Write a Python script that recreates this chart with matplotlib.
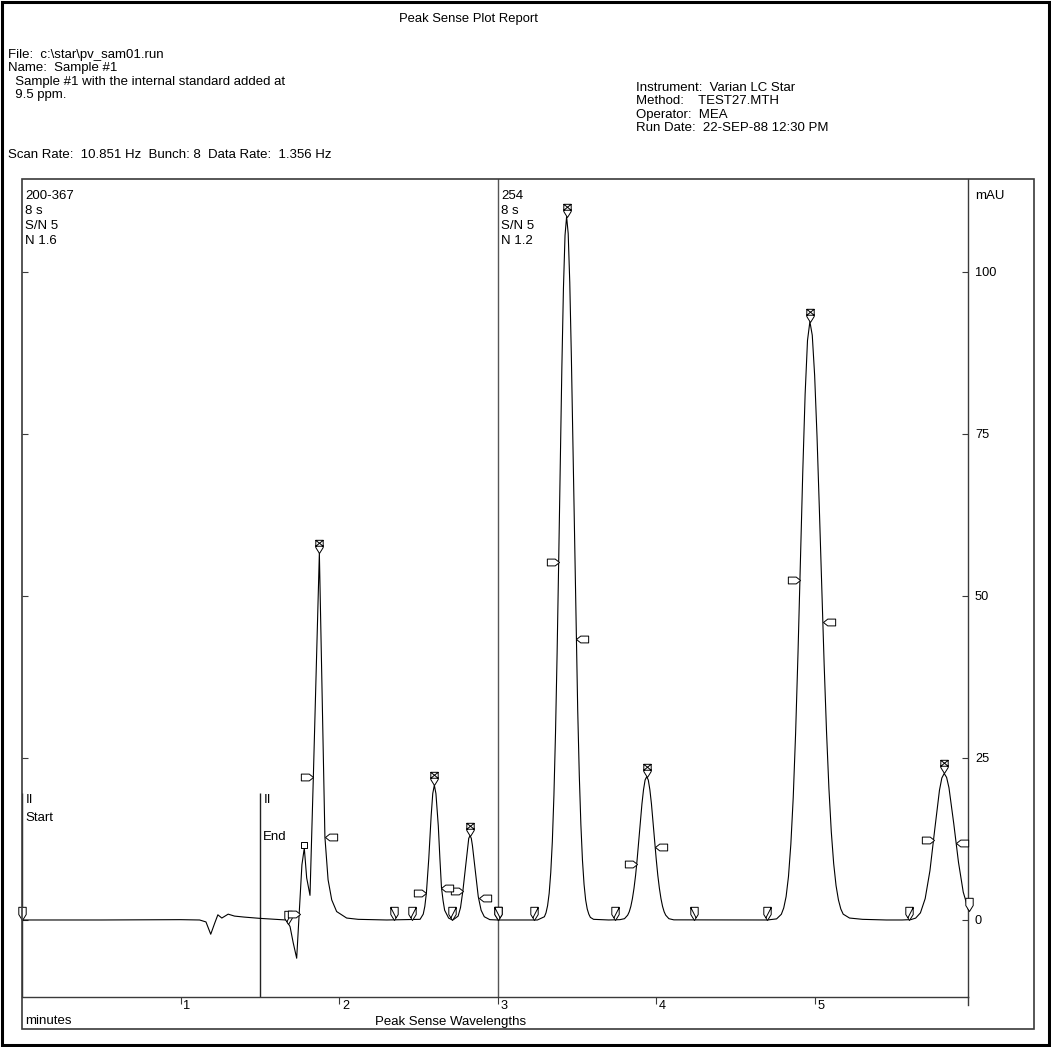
import numpy as np
import matplotlib.pyplot as plt
from matplotlib.path import Path
from matplotlib.patches import Rectangle
from matplotlib.lines import Line2D
from matplotlib.transforms import ScaledTranslation

plt.rcParams['font.family'] = ['Liberation Sans', 'DejaVu Sans']

# chromatogram trace (minutes, mAU)
time = [0.00, 0.50, 1.00, 1.12, 1.16, 1.19, 1.215, 1.235, 1.26, 1.30, 1.34, 1.40, 1.50, 1.60, 1.665,
        1.69, 1.71, 1.732, 1.75, 1.765, 1.78, 1.795, 1.816, 1.837, 1.858, 1.875,
        1.91, 1.93, 1.953, 1.984, 2.047, 2.12, 2.30,
        2.51, 2.53, 2.54, 2.55, 2.565, 2.57, 2.58, 2.59, 2.60, 2.61, 2.625, 2.635, 2.645, 2.655,
        2.665, 2.69, 2.71,
        2.72, 2.75, 2.765, 2.78, 2.795, 2.81, 2.817, 2.825, 2.833, 2.84, 2.855, 2.877, 2.895, 2.915,
        2.95, 3.00,
        3.25, 3.294, 3.304, 3.314, 3.324, 3.334, 3.344, 3.354, 3.364, 3.374, 3.384, 3.394, 3.404,
        3.414, 3.424, 3.434, 3.444, 3.454, 3.464, 3.474, 3.484, 3.494, 3.504, 3.514, 3.524, 3.534,
        3.544, 3.554, 3.564, 3.574, 3.584, 3.604, 3.70,
        3.77, 3.799, 3.819, 3.829, 3.839, 3.849, 3.859, 3.869, 3.879, 3.889, 3.899, 3.909, 3.919,
        3.929, 3.939, 3.949, 3.959, 3.969, 3.979, 3.989, 3.999, 4.009, 4.019, 4.029, 4.039, 4.049,
        4.059, 4.079, 4.11,
        4.70, 4.758, 4.788, 4.803, 4.818, 4.833, 4.848, 4.863, 4.878, 4.893, 4.908, 4.923, 4.938,
        4.953, 4.968, 4.983, 4.998, 5.013, 5.028, 5.043, 5.058, 5.073, 5.088, 5.103, 5.118, 5.133,
        5.148, 5.163, 5.178, 5.218, 5.30, 5.45,
        5.55, 5.605, 5.635, 5.665, 5.695, 5.725, 5.755, 5.785, 5.80, 5.815, 5.83, 5.845, 5.875,
        5.905, 5.935, 5.97]
mau = [0.0, 0.0, 0.05, 0.0, -0.3, -2.2, -0.5, 0.8, 0.3, 0.9, 0.6, 0.45, 0.25, 0.1, 0.0,
       -1.0, -3.5, -5.9, 2.0, 8.5, 11.1, 6.5, 3.8, 22.0, 41.0, 56.6,
       12.8, 6.2, 3.1, 1.3, 0.3, 0.1, 0.0,
       0.1, 0.9, 2.1, 4.2, 9.5, 11.7, 16.1, 19.5, 20.8, 19.5, 14.5, 9.5, 5.0, 3.0,
       1.5, 0.3, 0.05,
       0.05, 0.6, 1.9, 4.5, 7.8, 11.0, 12.6, 13.0, 12.6, 11.5, 8.3, 3.6, 1.5, 0.5,
       0.05, 0.0,
       0.0, 0.5, 1.1, 2.2, 4.1, 7.3, 12.1, 19.2, 28.8, 41.0, 55.2, 70.4, 85.1,
       97.4, 105.6, 108.5, 105.9, 98.3, 86.9, 73.1, 58.5, 44.6, 32.4, 22.3, 14.7, 9.2,
       5.5, 3.1, 1.7, 0.9, 0.4, 0.1, 0.0,
       0.05, 0.2, 0.74, 1.27, 2.1, 3.3, 4.9, 6.9, 9.4, 12.2, 15.1, 17.9, 20.1,
       21.6, 22.1, 21.6, 20.1, 17.9, 15.1, 12.2, 9.4, 6.9, 4.9, 3.3, 2.1, 1.27,
       0.74, 0.2, 0.02,
       0.0, 0.17, 0.88, 1.85, 3.6, 6.7, 11.7, 18.9, 28.8, 41.1, 55.0, 69.0, 81.1,
       89.4, 92.3, 90.2, 84.0, 74.6, 63.2, 51.1, 39.4, 29.0, 20.3, 13.6, 8.7, 5.3,
       3.1, 1.7, 0.9, 0.3, 0.1, 0.0,
       0.0, 0.06, 0.29, 1.1, 3.3, 7.6, 13.9, 20.0, 21.9, 22.6, 22.0, 20.4, 14.9,
       8.9, 4.3, 1.4]

# peak apex marks
apex_t = [1.875, 2.60, 2.825, 3.434, 3.939, 4.968, 5.815]
apex_y = [56.6, 20.8, 13.0, 108.5, 22.1, 92.3, 22.6]
# baseline marks
start_t = [1.68, 2.46, 2.71, 3.0, 3.23, 3.74, 4.70, 5.595]
start_y = [-0.6, 0, 0, 0, 0, 0, 0, 0]
end_t = [2.345, 3.0, 4.24]
end_y = [0, 0, 0]
plain_t = [0.0, 5.97]
plain_y = [0.0, 1.4]
# half height marks
up_t = [1.752, 1.836, 2.55, 2.78, 3.384, 3.876, 4.905, 5.748]
up_y = [1.0, 22.0, 4.2, 4.5, 55.2, 8.7, 52.4, 12.4]
down_t = [1.91, 2.645, 2.88, 3.495, 3.992, 5.049, 5.89]
down_y = [12.8, 5.0, 3.4, 43.3, 11.3, 46.0, 11.9]
small_t = [1.78]
small_y = [11.1]

xticks = [1, 2, 3, 4, 5]
yticks = [0, 25, 50, 75, 100]

W, H = 1051, 1047
fig = plt.figure(figsize=(W / 100, H / 100), dpi=100)


def fx(x):
    return x / W


def fy(y):
    return 1 - y / H


FS = 9.5
frame_col = '#3a3a3a'

# page border and plot frame
fig.add_artist(Rectangle((fx(2), fy(1045)), fx(1049) - fx(2), fy(2) - fy(1045), fill=False,
                         lw=2.2, ec='black', transform=fig.transFigure))
fig.add_artist(Rectangle((fx(22), fy(1029)), fx(1034) - fx(22), fy(179) - fy(1029), fill=False,
                         lw=1.2, ec=frame_col, transform=fig.transFigure))
fig.add_artist(Line2D([fx(968), fx(968)], [fy(997), fy(1005)], lw=1.0, color=frame_col))

# header text
fig.text(fx(468), fy(19), 'Peak Sense Plot Report', ha='center', va='center', fontsize=9.4)
left_lines = ['File:  c:\\star\\pv_sam01.run', 'Name:  Sample #1',
              '  Sample #1 with the internal standard added at', '  9.5 ppm.']
for i, s in enumerate(left_lines):
    fig.text(fx(8), fy(55 + 13.4 * i), s, ha='left', va='center', fontsize=FS)
right_lines = ['Instrument:  Varian LC Star', 'Method:    TEST27.MTH', 'Operator:  MEA',
               'Run Date:  22-SEP-88 12:30 PM']
for i, s in enumerate(right_lines):
    fig.text(fx(636), fy(88 + 13.4 * i), s, ha='left', va='center', fontsize=FS)
fig.text(fx(8), fy(155), 'Scan Rate:  10.851 Hz  Bunch: 8  Data Rate:  1.356 Hz',
         ha='left', va='center', fontsize=FS)

ax = fig.add_axes([fx(22), fy(997), fx(968) - fx(22), fy(179) - fy(997)])
ax.set_xlim(0, 5.965)
ax.set_ylim(-11.88, 114.3)
ax.patch.set_alpha(0)

for side in ['left', 'top']:
    ax.spines[side].set_visible(False)
for side in ['right', 'bottom']:
    ax.spines[side].set_color(frame_col)
    ax.spines[side].set_linewidth(1.0)

ax.plot(time, mau, color='black', lw=0.8, zorder=3)

# divider between wavelength panels, start/end of integration
ax.axvline(3.0, color='#555555', lw=1.0, zorder=2)
ax.vlines([0.0, 1.5], -11.88, 19.6, color='#222222', lw=1.0, zorder=2)


def shield(mark=None):
    w = 0.28
    verts = [(0, 0), (w, 0.45), (w, 1.0), (-w, 1.0), (-w, 0.45), (0, 0)]
    codes = [Path.MOVETO] + [Path.LINETO] * 4 + [Path.CLOSEPOLY]
    if mark == 'x':
        verts += [(-w, 0.55), (w, 0.55), (-w, 0.55), (w, 1.0), (-w, 1.0), (w, 0.55)]
        codes += [Path.MOVETO, Path.LINETO, Path.MOVETO, Path.LINETO, Path.MOVETO, Path.LINETO]
    elif mark == '/':
        verts += [(w, 0.98), (-0.12, 0.2)]
        codes += [Path.MOVETO, Path.LINETO]
    elif mark == '\\':
        verts += [(-w, 0.98), (0.12, 0.2)]
        codes += [Path.MOVETO, Path.LINETO]
    return Path(verts, codes)


def flag(direction):
    s = 1 if direction == 'right' else -1
    verts = [(0, 0), (-0.35 * s, 0.28), (-1 * s, 0.28), (-1 * s, -0.28), (-0.35 * s, -0.28), (0, 0)]
    codes = [Path.MOVETO] + [Path.LINETO] * 4 + [Path.CLOSEPOLY]
    return Path(verts, codes)


square = Path([(-0.5, 0), (0.5, 0), (0.5, 1), (-0.5, 1), (-0.5, 0)],
              [Path.MOVETO, Path.LINETO, Path.LINETO, Path.LINETO, Path.CLOSEPOLY])

mk = dict(ls='none', mfc='white', mec='black', mew=0.7, zorder=5, clip_on=False)
ax.plot(apex_t, apex_y, marker=shield('x'), ms=19, **mk)
ax.plot(start_t, start_y, marker=shield('/'), ms=19, **mk)
ax.plot(end_t, end_y, marker=shield('\\'), ms=19, **mk)
ax.plot(plain_t, plain_y, marker=shield(), ms=19, **mk)
ax.plot(up_t, up_y, marker=flag('right'), ms=17.5, **mk)
ax.plot(down_t, down_y, marker=flag('left'), ms=17.5, **mk)
ax.plot(small_t, small_y, marker=square, ms=9, **mk)

# ticks
ax.set_xticks(xticks)
ax.set_xticklabels([str(t) for t in xticks], ha='left')
ax.tick_params(axis='x', direction='out', length=5, width=0.8, pad=-2.5, labelsize=9.2,
               color=frame_col)
for lab in ax.get_xticklabels():
    lab.set_transform(lab.get_transform() + ScaledTranslation(2 / 72, 0, fig.dpi_scale_trans))

ax.set_yticks(yticks)
ax.yaxis.tick_right()
ax.tick_params(axis='y', which='both', left=True, right=True, direction='in', length=4,
               width=0.8, pad=5, labelsize=9.2, color=frame_col)

# panel annotations
for x0, lines in [(0.0, ['200-367', '8 s', 'S/N 5', 'N 1.6']), (3.0, ['254', '8 s', 'S/N 5', 'N 1.2'])]:
    for i, s in enumerate(lines):
        ax.annotate(s, xy=(x0, 1), xycoords=('data', 'axes fraction'), xytext=(2.2, -12 - 10.8 * i),
                    textcoords='offset points', ha='left', va='center', fontsize=FS)
ax.annotate('II', xy=(0.0, 19.6), xytext=(2.5, -5), textcoords='offset points',
            ha='left', va='center', fontsize=FS)
ax.annotate('Start', xy=(0.0, 19.6), xytext=(2.5, -18), textcoords='offset points',
            ha='left', va='center', fontsize=FS)
ax.annotate('II', xy=(1.5, 19.6), xytext=(2.5, -5), textcoords='offset points',
            ha='left', va='center', fontsize=FS)
ax.annotate('End', xy=(1.5, 19.6), xytext=(2.5, -32), textcoords='offset points',
            ha='left', va='center', fontsize=FS)

fig.text(fx(975), fy(196), 'mAU', ha='left', va='center', fontsize=FS)
fig.text(fx(25), fy(1021.5), 'minutes', ha='left', va='center', fontsize=FS)
fig.text(fx(375), fy(1021.5), 'Peak Sense Wavelengths', ha='left', va='center', fontsize=FS)

fig.savefig('out.png', dpi=100)
